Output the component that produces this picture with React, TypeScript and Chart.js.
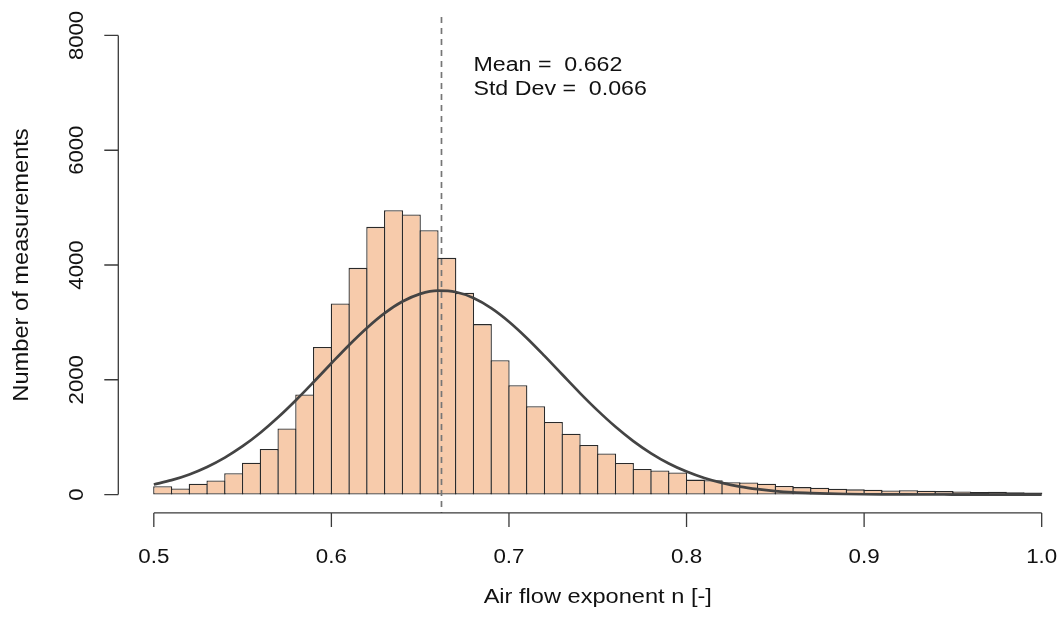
import React, { useEffect, useRef } from "react";
import { Chart, registerables } from "chart.js";

Chart.register(...registerables);

// Histogram bins (0.50 .. 1.00, width 0.01)
const BIN_START = 0.5;
const BIN_WIDTH = 0.01;
const COUNTS = [
  145, 105, 190, 245, 370, 555, 795, 1150, 1745, 2570,
  3330, 3950, 4665, 4955, 4880, 4605, 4125, 3515, 2970, 2340,
  1905, 1540, 1265, 1060, 865, 715, 550, 445, 420, 385,
  260, 250, 215, 210, 188, 150, 130, 120, 100, 90,
  85, 70, 75, 65, 60, 55, 45, 50, 40, 35,
];

// Fitted curve
const CURVE_X = [
  0.5, 0.51, 0.52, 0.53, 0.54, 0.55, 0.56, 0.57, 0.58, 0.59,
  0.6, 0.61, 0.62, 0.63, 0.64, 0.65, 0.66, 0.67, 0.68, 0.69,
  0.7, 0.71, 0.72, 0.73, 0.74, 0.75, 0.76, 0.77, 0.78, 0.79,
  0.8, 0.81, 0.82, 0.83, 0.84, 0.85, 0.86, 0.87, 0.88, 0.89,
  0.9, 0.91, 0.92, 0.93, 0.94, 0.95, 0.96, 0.97, 0.98, 0.99, 1.0,
];
const CURVE_Y = [
  175, 251, 351, 481, 644, 842, 1077, 1346, 1643, 1961,
  2287, 2607, 2903, 3161, 3363, 3497, 3553, 3529, 3425, 3249,
  3012, 2729, 2416, 2091, 1768, 1462, 1181, 932, 719, 542,
  400, 288, 203, 139, 94, 61, 39, 25, 15, 9,
  5, 3, 2, 1, 1, 0, 0, 0, 0, 0, 0,
];

const MEAN = 0.662;
const STD_DEV = 0.066;

const X_TICKS = [0.5, 0.6, 0.7, 0.8, 0.9, 1.0];
const X_TICK_LABELS = ["0.5", "0.6", "0.7", "0.8", "0.9", "1.0"];
const Y_TICKS = [0, 2000, 4000, 6000, 8000];
const Y_TICK_LABELS = ["0", "2000", "4000", "6000", "8000"];

const X_TITLE = "Air flow exponent n [-]";
const Y_TITLE = "Number of measurements";

const FONT = '"Liberation Sans", Arial, Helvetica, sans-serif';
const TEXT_COLOR = "#111111";

function drawText(
  ctx: CanvasRenderingContext2D,
  text: string,
  x: number,
  y: number,
  size: number,
  stretch: number,
  align: CanvasTextAlign,
  rotate = 0
) {
  ctx.save();
  ctx.translate(x, y);
  if (rotate) ctx.rotate(rotate);
  ctx.scale(stretch, 1);
  ctx.font = `${size}px ${FONT}`;
  ctx.textAlign = align;
  ctx.textBaseline = "alphabetic";
  ctx.fillStyle = TEXT_COLOR;
  ctx.fillText(text, 0, 0);
  ctx.restore();
}

const rAxesPlugin = {
  id: "rAxes",
  afterDatasetsDraw(chart: any) {
    const { ctx, chartArea, scales } = chart;
    const mx = scales.x.getPixelForValue(MEAN);
    ctx.save();
    ctx.strokeStyle = "#767676";
    ctx.lineWidth = 1.7;
    ctx.setLineDash([6, 5]);
    ctx.beginPath();
    ctx.moveTo(mx, chartArea.top);
    ctx.lineTo(mx, chartArea.bottom);
    ctx.stroke();
    ctx.restore();
  },
  afterDraw(chart: any) {
    const { ctx, chartArea, scales } = chart;
    const xs = scales.x;
    const ys = scales.y;
    const axisY = chartArea.bottom;
    const axisX = chartArea.left;
    const tickLen = 14;

    ctx.save();
    ctx.strokeStyle = "#3a3a3a";
    ctx.lineWidth = 1.3;
    ctx.setLineDash([]);

    // x axis
    const x0 = xs.getPixelForValue(X_TICKS[0]);
    const x1 = xs.getPixelForValue(X_TICKS[X_TICKS.length - 1]);
    ctx.beginPath();
    ctx.moveTo(x0, axisY);
    ctx.lineTo(x1, axisY);
    X_TICKS.forEach((v) => {
      const px = xs.getPixelForValue(v);
      ctx.moveTo(px, axisY);
      ctx.lineTo(px, axisY + tickLen);
    });
    ctx.stroke();

    // y axis
    const y0 = ys.getPixelForValue(Y_TICKS[0]);
    const y1 = ys.getPixelForValue(Y_TICKS[Y_TICKS.length - 1]);
    ctx.beginPath();
    ctx.moveTo(axisX, y0);
    ctx.lineTo(axisX, y1);
    Y_TICKS.forEach((v) => {
      const py = ys.getPixelForValue(v);
      ctx.moveTo(axisX, py);
      ctx.lineTo(axisX - tickLen, py);
    });
    ctx.stroke();
    ctx.restore();

    // tick labels
    X_TICKS.forEach((v, i) => {
      drawText(ctx, X_TICK_LABELS[i], xs.getPixelForValue(v), axisY + 50, 20.5, 1.09, "center");
    });
    Y_TICKS.forEach((v, i) => {
      drawText(ctx, Y_TICK_LABELS[i], axisX - 35, ys.getPixelForValue(v), 20.5, 1.08, "center", -Math.PI / 2);
    });

    // axis titles
    drawText(ctx, X_TITLE, (x0 + x1) / 2, axisY + 90, 20, 1.18, "center");
    drawText(ctx, Y_TITLE, axisX - 90, (y0 + y1) / 2, 21.5, 1.1, "center", -Math.PI / 2);

    // statistics text
    const tx = xs.getPixelForValue(0.68);
    drawText(ctx, `Mean =  ${MEAN.toFixed(3)}`, tx, 71, 20, 1.16, "left");
    drawText(ctx, `Std Dev =  ${STD_DEV.toFixed(3)}`, tx, 95, 20, 1.16, "left");
  },
};

export default function App() {
  const canvasRef = useRef<HTMLCanvasElement | null>(null);

  useEffect(() => {
    const canvas = canvasRef.current;
    if (!canvas) return;

    const barData = COUNTS.map((c, i) => ({
      x: BIN_START + BIN_WIDTH * (i + 0.5),
      y: c,
    }));
    const curveData = CURVE_X.map((x, i) => ({ x, y: CURVE_Y[i] }));

    const chart = new Chart(canvas, {
      type: "bar",
      data: {
        datasets: [
          {
            type: "line",
            data: curveData,
            borderColor: "#444444",
            borderWidth: 2.7,
            pointRadius: 0,
            fill: false,
            tension: 0.4,
            cubicInterpolationMode: "monotone",
            order: 0,
          } as any,
          {
            type: "bar",
            data: barData,
            backgroundColor: "#F7CBAB",
            borderColor: "#2a2a2a",
            borderWidth: 1.3,
            borderSkipped: false,
            barPercentage: 1.073,
            categoryPercentage: 1,
            order: 1,
          } as any,
        ],
      },
      options: {
        responsive: false,
        animation: false,
        devicePixelRatio: 1,
        layout: {
          padding: { left: 118.3, right: 0, top: 17.1, bottom: 116.1 },
        },
        plugins: {
          legend: { display: false },
          tooltip: { enabled: false },
        },
        scales: {
          x: {
            type: "linear",
            min: 0.48,
            max: 1.012,
            offset: false,
            display: false,
            grid: { offset: false },
            afterBuildTicks: (axis: any) => {
              axis.ticks = X_TICKS.map((v) => ({ value: v }));
            },
          },
          y: {
            type: "linear",
            min: -320,
            max: 8320,
            display: false,
          },
        },
      },
      plugins: [rAxesPlugin],
    } as any);

    return () => chart.destroy();
  }, []);

  return (
    <div style={{ position: "absolute", left: 0, top: 0, width: 1063, height: 629, background: "#fff" }}>
      <canvas ref={canvasRef} width={1063} height={629} style={{ display: "block" }} />
    </div>
  );
}
